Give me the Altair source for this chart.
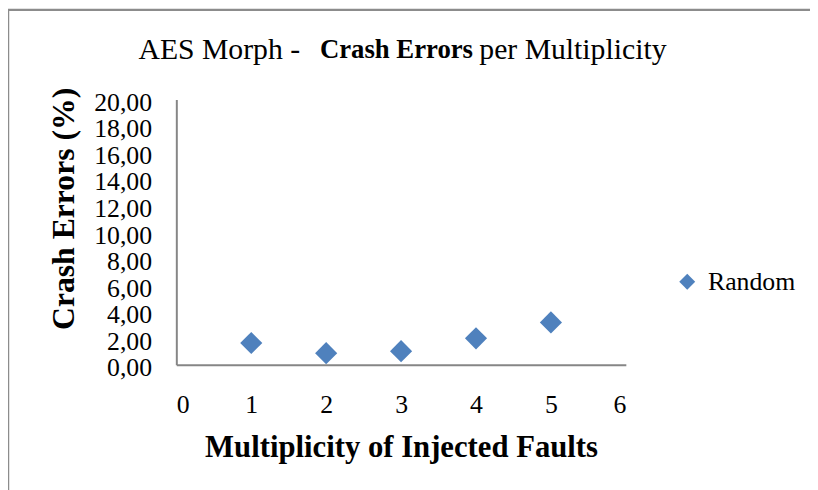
import altair as alt
import pandas as pd

# Data
multiplicity = [1, 2, 3, 4, 5]
crash_errors = [1.65, 0.88, 1.03, 2.0, 3.2]
series_name = ["Random"] * 5

df = pd.DataFrame({"x": multiplicity, "y": crash_errors, "series": series_name})

FONT = "Liberation Serif"
BLUE = "#4F81BD"
GREY = "#868686"

points = alt.Chart(df).mark_point(shape="diamond", filled=True, size=500, opacity=1).encode(
    x=alt.X("x:Q",
            scale=alt.Scale(domain=[0, 6], nice=False),
            axis=alt.Axis(values=[0, 1, 2, 3, 4, 5, 6], title="Multiplicity of Injected Faults",
                          grid=False, ticks=False, domainColor=GREY, domainWidth=2,
                          labelFont=FONT, labelFontSize=26, labelColor="black", labelPadding=27,
                          titleFont=FONT, titleFontSize=31, titleFontWeight="bold",
                          titleColor="black", titlePadding=16)),
    y=alt.Y("y:Q",
            scale=alt.Scale(domain=[0, 20], nice=False),
            axis=alt.Axis(values=[0, 2, 4, 6, 8, 10, 12, 14, 16, 18, 20],
                          labelExpr="replace(format(datum.value, '.2f'), '.', ',')",
                          title="Crash Errors (%)",
                          grid=False, ticks=False, domainColor=GREY, domainWidth=2,
                          labelFont=FONT, labelFontSize=26, labelColor="black", labelPadding=25,
                          labelOffset=3,
                          titleFont=FONT, titleFontSize=32, titleFontWeight="bold",
                          titleColor="black", titlePadding=13, titleY=110)),
    color=alt.Color("series:N", scale=alt.Scale(range=[BLUE]),
                    legend=alt.Legend(title=None, orient="none", legendX=503, legendY=171,
                                      labelFont=FONT, labelFontSize=26, labelColor="black",
                                      symbolSize=260, symbolType="diamond", symbolStrokeWidth=0,
                                      padding=0, labelOffset=8)),
)

t1 = alt.Chart(pd.DataFrame({"t": ["AES Morph -"]})).mark_text(
    font=FONT, fontSize=30, align="right", baseline="middle", color="black"
).encode(text="t:N", x=alt.value(125), y=alt.value(-50))
t2 = alt.Chart(pd.DataFrame({"t": ["Crash Errors"]})).mark_text(
    font=FONT, fontSize=27, fontWeight="bold", align="left", baseline="middle", color="black"
).encode(text="t:N", x=alt.value(145), y=alt.value(-50))
t3 = alt.Chart(pd.DataFrame({"t": ["per Multiplicity"]})).mark_text(
    font=FONT, fontSize=30, align="left", baseline="middle", color="black"
).encode(text="t:N", x=alt.value(306), y=alt.value(-50))

frame_df = pd.DataFrame({"k": [0]})
frame_top = alt.Chart(frame_df).mark_rule(color="#8c8c8c", strokeWidth=2.5).encode(
    x=alt.value(-170), x2=alt.value(720), y=alt.value(-90.5))
frame_left = alt.Chart(frame_df).mark_rule(color="#8c8c8c", strokeWidth=2.5).encode(
    x=alt.value(-170), y=alt.value(-91.5), y2=alt.value(420))

chart = alt.layer(frame_top, frame_left, t1, t2, t3, points).properties(
    width=454, height=268,
    background="white",
    autosize=alt.AutoSizeParams(type="none"),
    padding={"left": 170, "top": 90, "right": 186, "bottom": 124},
).configure_view(stroke=None)

chart.save("out.html", embed_options={"renderer": "svg", "actions": False})
